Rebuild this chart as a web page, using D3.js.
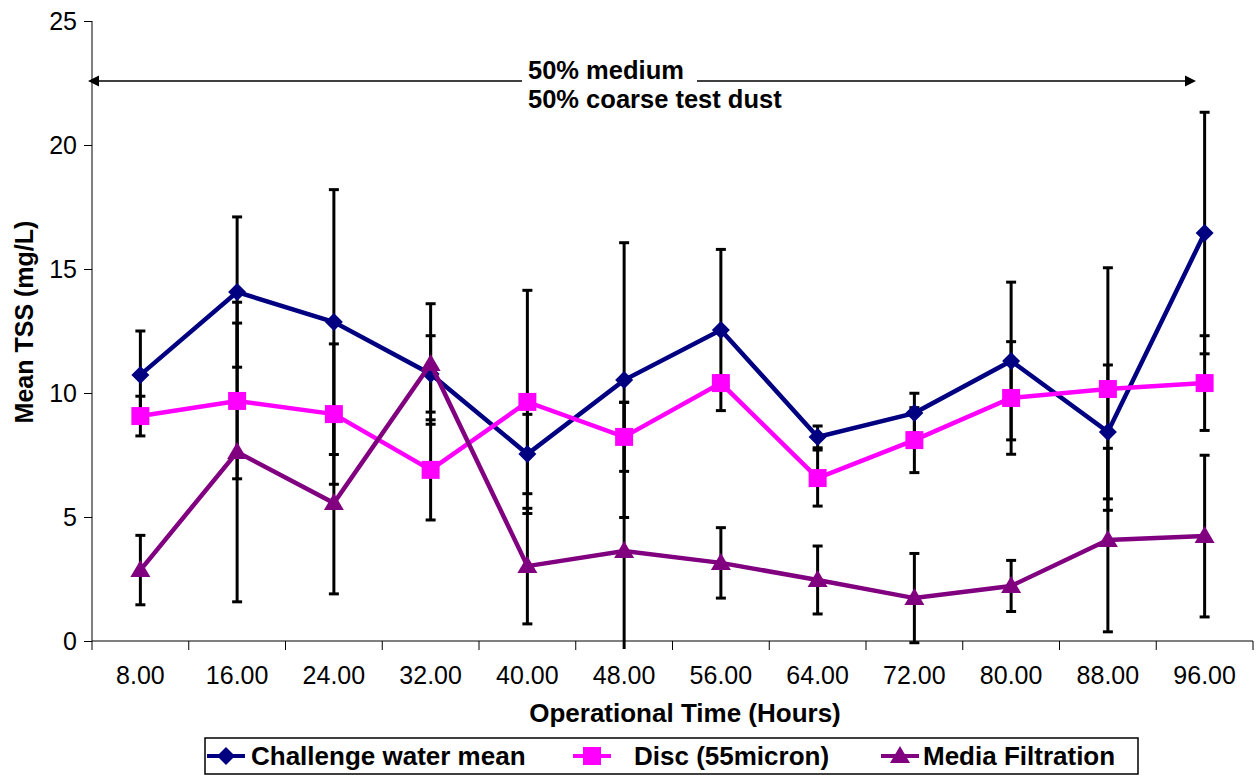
<!DOCTYPE html>
<html>
<head>
<meta charset="utf-8">
<script src="https://cdn.jsdelivr.net/npm/d3@7"></script>
<style>
  html, body { margin: 0; padding: 0; background: #fff; }
  svg { display: block; font-family: "Liberation Sans", Arial, sans-serif; }
</style>
</head>
<body>
<svg id="chart" width="1258" height="775"></svg>
<script>
// ---- data ----
const categories = ["8.00","16.00","24.00","32.00","40.00","48.00","56.00","64.00","72.00","80.00","88.00","96.00"];
const challenge    = [10.73, 14.07, 12.86, 10.77, 7.54, 10.52, 12.54, 8.23, 9.19, 11.29, 8.43, 16.45];
const challengeErr = [1.77, 3.03, 5.34, 1.54, 1.60, 5.54, 3.25, 0.44, 0.80, 3.18, 2.70, 4.87];
const disc         = [9.07, 9.68, 9.15, 6.90, 9.64, 8.23, 10.40, 6.57, 8.10, 9.80, 10.16, 10.40];
const discErr      = [0.80, 3.14, 2.83, 2.02, 4.50, 1.39, 0.30, 1.13, 1.31, 2.27, 4.89, 1.91];
const media        = [2.86, 7.62, 5.56, 11.17, 3.02, 3.63, 3.15, 2.46, 1.73, 2.22, 4.07, 4.23];
const mediaErr     = [1.40, 6.04, 3.66, 2.43, 2.33, 6.00, 1.42, 1.37, 1.80, 1.03, 3.70, 3.26];
const yTicks = [0, 5, 10, 15, 20, 25];
const seriesNames = ["Challenge water mean", "Disc (55micron)", "Media Filtration"];
const seriesColors = ["#000080", "#FF00FF", "#800080"];
const seriesShapes = ["diamond", "square", "triangle"];
const annotationLines = ["50% medium", "50% coarse test dust"];

const series = [
  {name: seriesNames[0], values: challenge, err: challengeErr, color: seriesColors[0], shape: seriesShapes[0]},
  {name: seriesNames[1], values: disc, err: discErr, color: seriesColors[1], shape: seriesShapes[1]},
  {name: seriesNames[2], values: media, err: mediaErr, color: seriesColors[2], shape: seriesShapes[2]}
];

// ---- layout ----
const svg = d3.select("#chart");
const pLeft = 92, pRight = 1253, pTop = 21, pBottom = 641;
const x = d3.scaleBand().domain(categories).range([pLeft, pRight]).padding(0);
const y = d3.scaleLinear().domain([0, 25]).range([pBottom, pTop]);
const cx = c => x(c) + x.bandwidth() / 2;

svg.append("defs").append("clipPath").attr("id", "plotclip")
  .append("rect").attr("x", pLeft).attr("y", 0).attr("width", pRight - pLeft).attr("height", 649);

// ---- axes ----
const yAxis = svg.append("g").attr("transform", `translate(${pLeft},0)`)
  .call(d3.axisLeft(y).tickValues(yTicks).tickSize(8).tickPadding(7).tickFormat(d3.format("d")));
yAxis.selectAll("text").attr("font-size", 25).attr("fill", "#000").attr("font-family", "Liberation Sans, Arial, sans-serif");
yAxis.selectAll("line").attr("stroke", "#000");
yAxis.select(".domain").attr("d", `M0,${pTop}V${pBottom}`).attr("stroke", "#000");

const xAxisG = svg.append("g").attr("transform", `translate(0,${pBottom})`);
xAxisG.append("line").attr("x1", pLeft).attr("x2", pRight).attr("y1", 0).attr("y2", 0).attr("stroke", "#000");
const boundaries = categories.map(c => x(c)).concat([pRight]);
xAxisG.selectAll("line.tk").data(boundaries).join("line").attr("class", "tk")
  .attr("x1", d => d).attr("x2", d => d).attr("y1", 0).attr("y2", 9).attr("stroke", "#000");
xAxisG.selectAll("text").data(categories).join("text")
  .attr("x", d => cx(d)).attr("y", 43).attr("text-anchor", "middle")
  .attr("font-size", 25).text(d => d);

svg.append("text").attr("x", 685).attr("y", 722).attr("text-anchor", "middle")
  .attr("font-size", 26).attr("font-weight", "bold").text("Operational Time (Hours)");
svg.append("text").attr("transform", "translate(33,322) rotate(-90)").attr("text-anchor", "middle")
  .attr("font-size", 25).attr("font-weight", "bold").text("Mean TSS (mg/L)");

// ---- annotation arrow ----
const ann = svg.append("g");
const ay = 81, ax1 = 88, ax2 = 1196;
ann.append("line").attr("x1", ax1 + 8).attr("x2", ax2 - 8).attr("y1", ay).attr("y2", ay).attr("stroke", "#000").attr("stroke-width", 1.5);
ann.append("path").attr("d", `M${ax1},${ay}l11,-5.5v11z`).attr("fill", "#000");
ann.append("path").attr("d", `M${ax2},${ay}l-11,-5.5v11z`).attr("fill", "#000");
ann.append("rect").attr("x", 522).attr("y", 58).attr("width", 175).attr("height", 28).attr("fill", "#fff");
ann.selectAll("text").data(annotationLines).join("text")
  .attr("x", 528).attr("y", (d, i) => 79 + i * 29)
  .attr("font-size", 25.5).attr("font-weight", "bold").text(d => d);

// ---- error bars ----
const eb = svg.append("g").attr("clip-path", "url(#plotclip)");
series.forEach(s => {
  s.values.forEach((v, i) => {
    const xc = cx(categories[i]);
    const hi = y(v + s.err[i]), lo = y(v - s.err[i]);
    eb.append("line").attr("x1", xc).attr("x2", xc).attr("y1", hi).attr("y2", lo)
      .attr("stroke", "#000").attr("stroke-width", 3);
    [hi, lo].forEach(yy => eb.append("line").attr("x1", xc - 5).attr("x2", xc + 5)
      .attr("y1", yy).attr("y2", yy).attr("stroke", "#000").attr("stroke-width", 3));
  });
});

// ---- markers ----
function markerPath(shape) {
  if (shape === "diamond") return "M0,-9L9,0L0,9L-9,0Z";
  if (shape === "square") return "M-9,-9H9V9H-9Z";
  return "M0,-10L10,7H-10Z";
}

// ---- series ----
const lineGen = d3.line().x((d, i) => cx(categories[i])).y(d => y(d));
series.forEach(s => {
  const g = svg.append("g");
  g.append("path").datum(s.values).attr("d", lineGen)
    .attr("fill", "none").attr("stroke", s.color).attr("stroke-width", 4.5).attr("stroke-linejoin", "miter");
  g.selectAll("path.m").data(s.values).join("path").attr("class", "m")
    .attr("transform", (d, i) => `translate(${cx(categories[i])},${y(d)})`)
    .attr("d", markerPath(s.shape)).attr("fill", s.color);
});

// ---- legend ----
const leg = svg.append("g");
leg.append("rect").attr("x", 205).attr("y", 738).attr("width", 933).attr("height", 36)
  .attr("fill", "#fff").attr("stroke", "#000").attr("stroke-width", 1.5);
const legX = [207, 573, 881];
const legTextX = [251, 634, 923];
series.forEach((s, i) => {
  const ly = 756;
  leg.append("line").attr("x1", legX[i]).attr("x2", legX[i] + 38).attr("y1", ly).attr("y2", ly)
    .attr("stroke", s.color).attr("stroke-width", 4);
  leg.append("path").attr("transform", `translate(${legX[i] + 19},${ly})`)
    .attr("d", markerPath(s.shape)).attr("fill", s.color);
  leg.append("text").attr("x", legTextX[i]).attr("y", ly + 9)
    .attr("font-size", 26).attr("font-weight", "bold").text(s.name);
});
</script>
</body>
</html>
